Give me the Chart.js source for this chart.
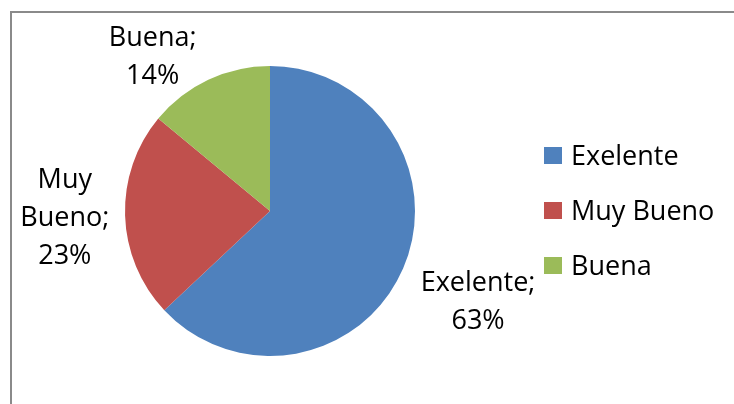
<!DOCTYPE html>
<html>
<head>
<meta charset="utf-8">
<script src="https://cdn.jsdelivr.net/npm/chart.js@4"></script>
<style>
  html, body { margin: 0; padding: 0; background: #fff; }
  #wrap { width: 734px; height: 404px; }
</style>
</head>
<body>
<div id="wrap"><canvas id="myChart" width="734" height="404"></canvas></div>
<script>
const categories = ["Exelente", "Muy Bueno", "Buena"];
const percentages = [63, 23, 14];
const labelLines = [["Exelente;", "63%"], ["Muy", "Bueno;", "23%"], ["Buena;", "14%"]];
const sliceColors = ["#4F81BD", "#C0504D", "#9BBB59"];

const FONT = "27px 'Open Sans'";
const LINE_H = 38;
// extra shift for labels Excel moved to keep inside the frame
const labelNudge = [[0, 0], [0, 0], [-27, 37]];

const framePlugin = {
  id: "frame",
  beforeDraw(chart) {
    const ctx = chart.ctx;
    ctx.save();
    ctx.strokeStyle = "#8a8a8a";
    ctx.lineWidth = 2;
    ctx.strokeRect(11, 12, 760, 420);
    ctx.restore();
  },
};

const labelsPlugin = {
  id: "sliceLabels",
  afterDatasetsDraw(chart) {
    const ctx = chart.ctx;
    const meta = chart.getDatasetMeta(0);
    ctx.save();
    ctx.font = FONT;
    ctx.fillStyle = "#000";
    ctx.textAlign = "center";
    ctx.textBaseline = "alphabetic";
    meta.data.forEach((arc, i) => {
      const lines = labelLines[i];
      const mid = (arc.startAngle + arc.endAngle) / 2;
      const dx = Math.cos(mid);
      const dy = Math.sin(mid);
      let w = 0;
      lines.forEach((l) => (w = Math.max(w, ctx.measureText(l).width)));
      const h = lines.length * LINE_H;
      const proj = Math.abs(dx) * w / 2 + Math.abs(dy) * h / 2;
      const d = arc.outerRadius + 14 + proj;
      const cx = arc.x + dx * d + labelNudge[i][0];
      const cy = arc.y + dy * d + labelNudge[i][1];
      lines.forEach((l, j) => {
        ctx.fillText(l, cx, cy + 9 + (j - (lines.length - 1) / 2) * LINE_H);
      });
    });
    ctx.restore();
  },
};

const legendPlugin = {
  id: "sideLegend",
  afterDraw(chart) {
    const ctx = chart.ctx;
    ctx.save();
    ctx.font = FONT;
    ctx.textBaseline = "alphabetic";
    ctx.textAlign = "left";
    categories.forEach((name, i) => {
      const y = 156 + i * 55;
      ctx.fillStyle = sliceColors[i];
      ctx.fillRect(544, y - 9, 18, 17);
      ctx.fillStyle = "#000";
      ctx.fillText(name, 571, y + 9);
    });
    ctx.restore();
  },
};

new Chart("myChart", {
  type: "pie",
  data: {
    labels: categories,
    datasets: [
      {
        data: percentages,
        backgroundColor: sliceColors,
        borderWidth: 0,
      },
    ],
  },
  options: {
    responsive: false,
    animation: false,
    layout: { padding: { left: 125, right: 319, top: 66, bottom: 48 } },
    plugins: {
      legend: { display: false },
      tooltip: { enabled: false },
    },
  },
  plugins: [framePlugin, labelsPlugin, legendPlugin],
});
</script>
</body>
</html>
